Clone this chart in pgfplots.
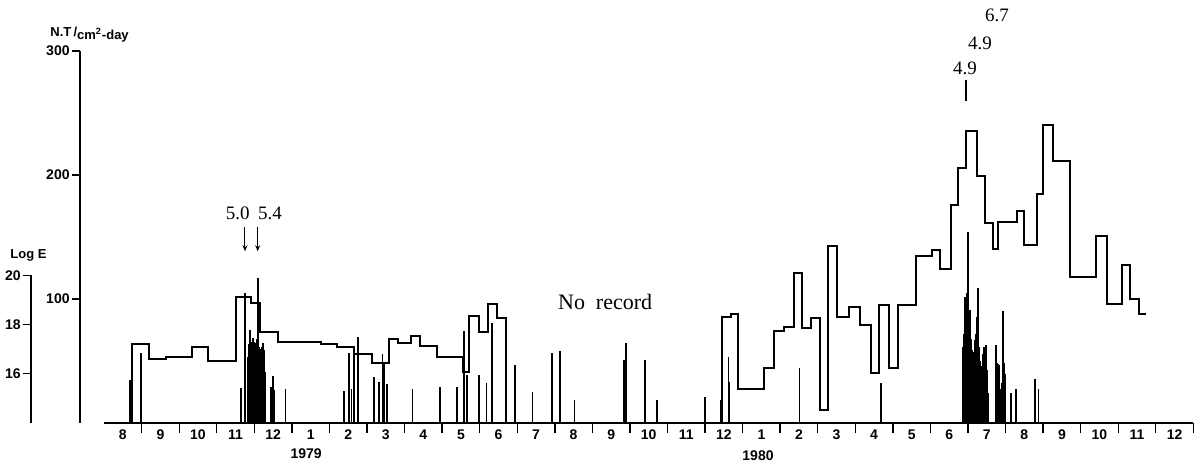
\documentclass[border=0pt]{standalone}
\usepackage{fontspec}
\setmainfont{Liberation Serif}
\setsansfont{Liberation Sans}
\usepackage{pgfplots}
\pgfplotsset{compat=1.18}
\usepackage{pgfplotstable}
\usetikzlibrary{arrows.meta}

% N.T per cm^2 per day, step values (month index: 0 = Aug 1978)
\pgfplotstableread{
x y
0.751 0
0.751 63.7
1.195 51.6
1.640 53.2
2.348 61.0
2.774 50.2
3.504 101.4
3.911 96.5
4.151 73.6
4.622 65.6
5.767 63.7
6.193 61.0
6.653 55.6
7.125 48.6
7.593 67.7
7.817 64.8
8.163 70.4
8.411 62.3
8.855 53.5
9.563 40.9
9.723 86.3
9.989 73.6
10.229 95.7
10.469 84.9
10.700 0
}\flowA

\pgfplotstableread{
x y
16.443 0
16.443 85.7
16.683 87.7
16.885 27.4
17.569 44.1
17.836 74.4
18.102 77.7
18.368 121.2
18.589 76.9
18.813 84.9
19.060 10.5
19.281 142.7
19.505 85.7
19.840 93.8
20.125 79.0
20.410 40.1
20.639 95.2
20.897 44.1
21.129 95.2
21.616 134.7
22.034 139.5
22.255 124.0
22.540 175.8
22.726 205.9
22.947 235.7
23.232 199.4
23.453 161.0
23.674 140.1
23.807 162.3
24.318 171.2
24.492 143.5
24.846 184.7
25.006 240.3
25.255 211.5
25.729 118.0
26.408 150.8
26.693 96.0
27.092 127.4
27.313 100.0
27.561 87.9
27.739 87.9
}\flowB

% earthquakes, Log E
\pgfplotstableread{
x E
0.690 15.75
0.982 16.86
3.637 15.41
3.751 19.27
3.839 16.69
3.862 17.20
3.884 17.78
3.907 17.30
3.930 16.97
3.951 17.20
3.972 17.45
3.995 17.30
4.018 17.25
4.040 17.10
4.063 17.41
4.097 19.88
4.115 17.30
4.132 17.10
4.155 17.00
4.177 16.97
4.200 17.10
4.223 17.25
4.240 17.00
4.257 16.97
4.292 16.08
4.436 15.47
4.489 15.91
4.523 15.34
4.835 15.38
6.395 15.30
6.528 16.86
6.592 15.38
6.653 17.00
6.752 17.50
7.186 15.88
7.319 15.68
7.417 16.80
7.452 16.42
7.540 15.57
8.206 15.38
8.943 15.45
9.388 15.45
9.587 17.75
9.654 15.95
9.675 15.60
9.989 15.95
10.186 15.64
10.333 18.05
10.700 16.83
10.945 16.36
11.411 15.25
11.917 16.83
12.138 16.94
12.519 14.93
13.842 16.56
13.895 17.24
14.401 16.56
14.728 14.93
15.998 15.04
16.416 14.95
16.619 16.70
16.645 15.65
18.509 16.22
20.684 15.61
22.859 17.10
22.878 16.60
22.894 17.60
22.921 19.13
22.944 18.20
22.966 19.27
22.987 18.00
23.008 21.77
23.030 17.80
23.054 18.59
23.076 17.40
23.099 16.97
23.120 16.60
23.141 16.90
23.165 16.80
23.187 17.37
23.210 17.60
23.232 18.32
23.250 17.80
23.267 19.47
23.285 17.60
23.302 17.10
23.320 16.50
23.339 16.02
23.360 16.30
23.382 16.42
23.405 16.80
23.427 17.10
23.450 17.00
23.472 17.17
23.499 16.15
23.515 15.80
23.533 15.21
23.746 17.17
23.763 16.80
23.780 16.42
23.803 16.40
23.826 16.36
23.853 15.21
23.875 15.40
23.898 15.61
23.915 16.40
23.932 18.55
23.950 17.00
23.967 16.42
23.985 16.00
24.004 15.34
24.146 15.21
24.279 15.38
24.785 15.77
24.873 15.37
}\quakes

\begin{document}
\begin{tikzpicture}
\useasboundingbox (-52.05pt,-20.5pt) rectangle (547.45pt,211.5pt);

% Log E axis (far left), spikes
\begin{axis}[
  at={(-36.55pt,0pt)}, anchor=south west,
  x=18.78pt, y=12.31pt,
  xmin=-1.946, xmax=29, ymin=0, ymax=6,
  axis y line=left, axis x line=none,
  axis line style={-, line width=0.7pt},
  clip=false,
  ytick={2,4,6}, yticklabels={16,18,20},
  tick align=outside, major tick length=4pt,
  tick style={line width=0.7pt, black},
  yticklabel style={font=\sffamily\bfseries\fontsize{7}{8}\selectfont, inner sep=1pt},
]
\addplot[ycomb, line width=0.8pt, black] table[x=x, y expr=\thisrow{E}-14] {\quakes};
\end{axis}

% N.T axis
\begin{axis}[
  at={(-12.05pt,0pt)}, anchor=south west,
  x=1pt, y=0.62pt,
  xmin=0, xmax=1, ymin=0, ymax=300,
  axis y line=left, axis x line=none,
  axis line style={-, line width=0.7pt},
  ytick={100,200,300}, yticklabels={100,200,300},
  tick align=outside, major tick length=4pt,
  tick style={line width=0.7pt, black},
  yticklabel style={font=\sffamily\bfseries\fontsize{7}{8}\selectfont, inner sep=1pt},
]
\end{axis}

% main axis: months and N.T histogram
\begin{axis}[
  at={(0pt,0pt)}, anchor=south west,
  x=18.78pt, y=0.62pt,
  xmin=0, xmax=29, ymin=0, ymax=300,
  axis x line=bottom, axis y line=none,
  axis line style={-, line width=0.7pt},
  clip=false,
  xtick={0.5,1.5,...,28.5},
  xticklabels={8,9,10,11,12,1,2,3,4,5,6,7,8,9,10,11,12,1,2,3,4,5,6,7,8,9,10,11,12},
  minor xtick={1,2,...,29},
  tick align=outside,
  major tick length=0pt, minor tick length=5pt,
  tick style={line width=0.7pt, black},
  xticklabel style={font=\sffamily\bfseries\fontsize{7}{8}\selectfont},
  ytick=\empty,
]
\addplot[const plot, line width=1pt, black] table {\flowA};
\addplot[const plot, line width=1pt, black] table {\flowB};

\node[font=\sffamily\bfseries\fontsize{7}{8}\selectfont] at (axis cs:5.38,-24.5) {1979};
\node[font=\sffamily\bfseries\fontsize{7}{8}\selectfont] at (axis cs:17.41,-26) {1980};

\node[font=\sffamily\bfseries\fontsize{6.5}{7}\selectfont, anchor=base west, inner sep=0pt]
  at (axis cs:-1.44,312) {N.T\,/\raisebox{-1.5pt}{cm\textsuperscript{2}-day}};
\node[font=\sffamily\bfseries\fontsize{6.5}{7}\selectfont, anchor=base west, inner sep=0pt]
  at (axis cs:-2.505,133) {Log E};

\node[font=\fontsize{9.5}{11}\selectfont, inner sep=0pt] at (axis cs:3.556,169.4) {5.0};
\node[font=\fontsize{9.5}{11}\selectfont, inner sep=0pt] at (axis cs:4.417,169.4) {5.4};
\draw[-{Stealth[length=3pt,width=2.5pt]}, line width=0.5pt] (axis cs:3.751,158) -- (axis cs:3.751,138.5);
\draw[-{Stealth[length=3pt,width=2.5pt]}, line width=0.5pt] (axis cs:4.089,158) -- (axis cs:4.089,138.5);

\node[font=\fontsize{9.5}{11}\selectfont, inner sep=0pt] at (axis cs:22.92,286.3) {4.9};
\node[font=\fontsize{9.5}{11}\selectfont, inner sep=0pt] at (axis cs:23.32,306.5) {4.9};
\node[font=\fontsize{9.5}{11}\selectfont, inner sep=0pt] at (axis cs:23.77,329) {6.7};
\draw[line width=1.3pt] (axis cs:22.947,277) -- (axis cs:22.947,260);

\node[font=\fontsize{11}{13}\selectfont, inner sep=0pt] at (axis cs:13.34,97.6) {No\ \ record};
\end{axis}
\end{tikzpicture}
\end{document}
